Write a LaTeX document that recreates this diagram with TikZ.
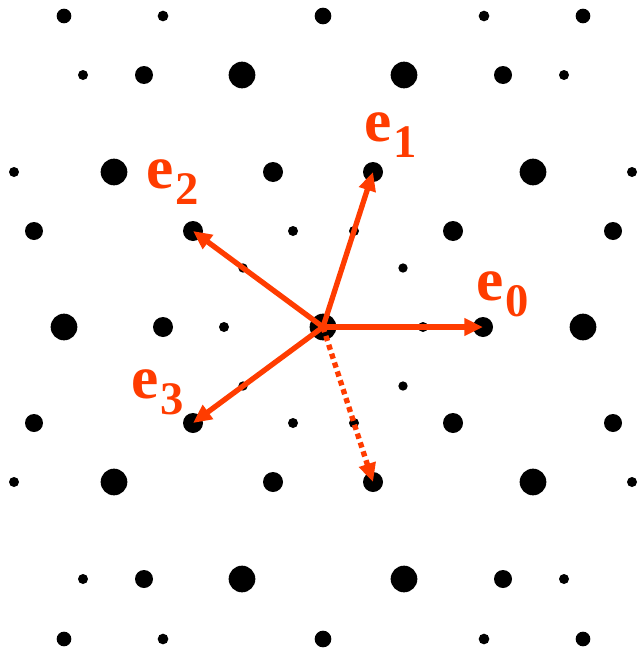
\documentclass[tikz,border=0pt]{standalone}
\usepackage{fontspec}
\setmainfont{Liberation Serif}
\usetikzlibrary{arrows.meta}
\definecolor{vecred}{RGB}{255,60,0}
\newcommand{\evlabel}[1]{{\fontsize{46}{46}\selectfont\bfseries e}\kern1.5pt\raisebox{-12pt}{\fontsize{35}{35}\selectfont\bfseries #1}}

\begin{document}
\begin{tikzpicture}[x=0.75pt, y=-0.75pt,
  spot/.style={circle, fill=black, inner sep=0pt, minimum size=#1},
  vec/.style={draw=vecred, line width=4pt, -{Triangle[length=14pt, width=12.5pt]}},
  lbl/.style={text=vecred, anchor=base west, inner sep=0pt}]
  \useasboundingbox (0,0) rectangle (637,653);

  % diffraction spots
  \foreach \x/\y/\d [count=\i] in {
      242/75/20pt, 404/75/20pt, 114/172/20pt, 533/172/20pt, 64/327/20pt,
      583/327/20pt, 114/482/20pt, 533/482/20pt, 242/579/20pt, 404/579/20pt,
      273/172/15pt, 453/231/15pt, 163/327/15pt, 453/423/15pt, 273/482/15pt,
      144/75/13.5pt, 503/75/13.5pt, 34/231/13.5pt, 613/231/13.5pt,
      34/423/13.5pt, 613/423/13.5pt, 144/579/13.5pt, 503/579/13.5pt,
      64/16/11pt, 323/16/12.5pt, 583/16/11pt, 64/639/11pt, 323/639/12.5pt, 583/639/11pt,
      163/16/8pt, 484/16/8pt, 83/75/7.5pt, 564/75/7.5pt, 14/172/7.5pt, 632/172/7.5pt,
      293/231/7.5pt, 354/231/7.5pt, 224/327/7.5pt, 423/327/7.5pt, 293/423/7.5pt,
      354/423/7.5pt, 14/482/7.5pt, 632/482/7.5pt, 83/579/7.5pt, 564/579/7.5pt,
      163/639/8pt, 484/639/8pt,
      243/268/7pt, 403/268/7pt, 243/386/7pt, 403/386/7pt}
    \node[spot=\d] (s\i) at (\x,\y) {};

  \node[spot=20pt] (o) at (323,327) {};
  \node[spot=15pt] (t0) at (483,327) {};
  \node[spot=15pt] (t1) at (373,172) {};
  \node[spot=15pt] (t2) at (193,231) {};
  \node[spot=15pt] (t3) at (193,423) {};
  \node[spot=15pt] (t4) at (373,482) {};

  % basis vectors
  \draw[vec] (o.center) -- (t0.center);
  \draw[vec] (o.center) -- (t1.center);
  \draw[vec] (o.center) -- (t2.center);
  \draw[vec] (o.center) -- (t3.center);
  \draw[vec, dash pattern=on 4pt off 3pt] (o.center) -- (t4.center);

  \node[lbl] (l0) at (476,300) {\evlabel{0}};
  \node[lbl] (l1) at (364,141) {\evlabel{1}};
  \node[lbl] (l2) at (146,188) {\evlabel{2}};
  \node[lbl] (l3) at (131,398) {\evlabel{3}};
\end{tikzpicture}
\end{document}
